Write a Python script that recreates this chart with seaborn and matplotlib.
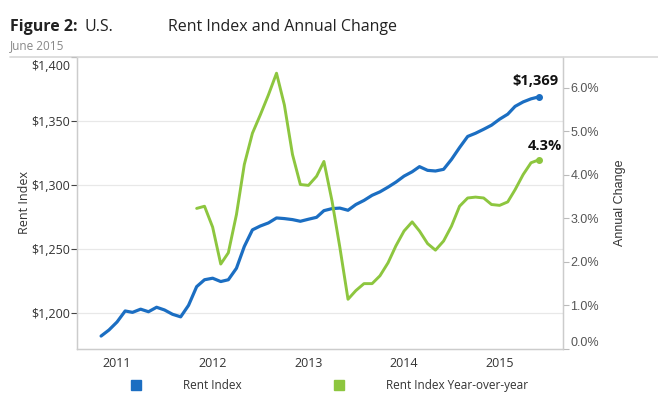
import numpy as np
import pandas as pd
import matplotlib.pyplot as plt
import matplotlib.ticker as mticker
import matplotlib.dates as mdates
import matplotlib.transforms as mtransforms
from matplotlib.lines import Line2D
import seaborn as sns

# monthly rent index, nov 2010 .. jun 2015
months = pd.date_range("2010-11-01", "2015-06-01", freq="MS")
rent_index = [1182, 1186.7, 1193, 1201.6, 1200.5, 1203, 1201, 1204.5, 1202.4, 1199,
              1197, 1206, 1220.6, 1226, 1227.2, 1224.6, 1226, 1235, 1252, 1265,
              1268, 1270.4, 1274.3, 1273.8, 1273, 1271.7, 1273.3, 1274.8, 1280, 1281.6,
              1282, 1280.3, 1284.8, 1288, 1292, 1294.7, 1298.4, 1302.3, 1307, 1310.4,
              1314.4, 1311.5, 1311, 1312.3, 1320, 1329.3, 1338, 1340.5, 1343.6, 1346.8,
              1351.5, 1355.4, 1361.5, 1365, 1367.4, 1369]

# year-over-year change (%), nov 2011 .. jun 2015
yoy_months = pd.date_range("2011-11-01", "2015-06-01", freq="MS")
yoy_change = [3.23, 3.28, 2.80, 1.95, 2.21, 3.09, 4.24, 4.96, 5.38, 5.84,
              6.34, 5.61, 4.47, 3.78, 3.76, 3.97, 4.31, 3.40, 2.33, 1.14,
              1.34, 1.50, 1.50, 1.68, 1.98, 2.37, 2.71, 2.92, 2.71, 2.42,
              2.27, 2.48, 2.82, 3.28, 3.47, 3.49, 3.47, 3.32, 3.30, 3.38,
              3.66, 4.01, 4.28, 4.35]

years = [2011, 2012, 2013, 2014, 2015]

blue = "#1b6ec2"
green = "#8dc63f"

sns.set_style("white")
plt.rcParams["font.family"] = ["Open Sans", "DejaVu Sans"]

fig = plt.figure(figsize=(6.58, 4.08), dpi=100)
ax = fig.add_axes([0.117, 0.145, 0.739, 0.715])
ax2 = ax.twinx()

df_rent = pd.DataFrame({"month": months, "rent": rent_index})
df_yoy = pd.DataFrame({"month": yoy_months, "yoy": yoy_change})

sns.lineplot(data=df_rent, x="month", y="rent", ax=ax, color=blue, linewidth=2.3)
sns.lineplot(data=df_yoy, x="month", y="yoy", ax=ax2, color=green, linewidth=2.1)

# end point markers + labels
ax.plot(df_rent["month"].iloc[-1], df_rent["rent"].iloc[-1], "o", color=blue, ms=4)
ax2.plot(df_yoy["month"].iloc[-1], df_yoy["yoy"].iloc[-1], "o", color=green, ms=4)
ax.annotate("${:,.0f}".format(rent_index[-1]), (df_rent["month"].iloc[-1], rent_index[-1]),
            xytext=(-3, 6), textcoords="offset points", ha="center", va="bottom",
            fontsize=10.5, fontweight="bold", color="#111111")
ax2.annotate("{:.1f}%".format(round(yoy_change[-1], 1)), (df_yoy["month"].iloc[-1], yoy_change[-1]),
             xytext=(4, 5), textcoords="offset points", ha="center", va="bottom",
             fontsize=10.5, fontweight="bold", color="#111111")

# axes ranges
ax.set_xlim(pd.Timestamp("2010-08-01"), pd.Timestamp("2015-09-01"))
ax.set_ylim(1172, 1400)
ax2.set_ylim(0, 6.71)

ax.xaxis.set_major_locator(mticker.FixedLocator([mdates.date2num(pd.Timestamp(f"{y}-01-01")) for y in years]))
ax.xaxis.set_major_formatter(mticker.FixedFormatter([str(y) for y in years]))
ax.set_yticks([1200, 1250, 1300, 1350, 1400])
ax.yaxis.set_major_formatter(mticker.FuncFormatter(lambda v, p: "${:,.0f}".format(v)))
ax2.set_yticks([0, 1, 2, 3, 4, 5, 6])
ax2.yaxis.set_major_formatter(mticker.FuncFormatter(lambda v, p: "{:.1f}%".format(v)))

ax.yaxis.grid(True, color="#e8e8e8", linewidth=0.9)
ax.set_axisbelow(True)

for a in [ax, ax2]:
    a.spines["top"].set_visible(False)
    for s in ["left", "right", "bottom"]:
        a.spines[s].set_color("#cccccc")
        a.spines[s].set_linewidth(0.9)

ax.tick_params("y", labelsize=9, colors="#444444", length=4, width=0.8, pad=1, left=True)
ax.tick_params("y", labelcolor="#333333")
ax.tick_params("x", labelsize=9, labelcolor="#333333", length=0, pad=6)
ax2.tick_params("y", labelsize=9, colors="#bbbbbb", length=4, width=0.8, pad=1, right=True)

fig.canvas.draw()
for lbl in ax2.get_yticklabels():
    lbl.set_family(["Liberation Sans", "DejaVu Sans"])
    lbl.set_color("#555555")
# edge labels are nudged inside, like the original
ax.get_yticklabels()[-1].set_transform(ax.get_yticklabels()[-1].get_transform()
                                       + mtransforms.ScaledTranslation(0, -8 / 100, fig.dpi_scale_trans))
ax2.get_yticklabels()[0].set_transform(ax2.get_yticklabels()[0].get_transform()
                                       + mtransforms.ScaledTranslation(0, 7 / 100, fig.dpi_scale_trans))

ax.set_xlabel("")
ax.set_ylabel("Rent Index", fontsize=9, color="#333333", labelpad=0)
ax2.set_ylabel("Annual Change", fontsize=9, color="#333333", labelpad=11,
               family=["Liberation Sans", "DejaVu Sans"])

# title block
fig.text(0.015, 0.935, "Figure 2:", fontsize=11.5, fontweight="bold", color="#222222", va="center")
fig.text(0.129, 0.935, "U.S.", fontsize=11.5, color="#222222", va="center")
fig.text(0.255, 0.935, "Rent Index and Annual Change", fontsize=11.5, color="#222222", va="center")
fig.text(0.015, 0.888, "June 2015", fontsize=8.5, color="#888888", va="center")
fig.add_artist(Line2D([0.015, 1.0], [0.861, 0.861], transform=fig.transFigure,
                      color="#d8d8d8", linewidth=1.2))

# legend
handles = [Line2D([], [], marker="s", linestyle="", color=blue, markersize=7.5),
           Line2D([], [], marker="s", linestyle="", color=green, markersize=7.5)]
fig.legend(handles, ["Rent Index", "Rent Index Year-over-year"], loc="center left",
           bbox_to_anchor=(0.173, 0.056), ncol=2, frameon=False, fontsize=8.5,
           handletextpad=3.0, columnspacing=7.2, labelcolor="#333333")

fig.savefig("out.png", dpi=100)
plt.close()
